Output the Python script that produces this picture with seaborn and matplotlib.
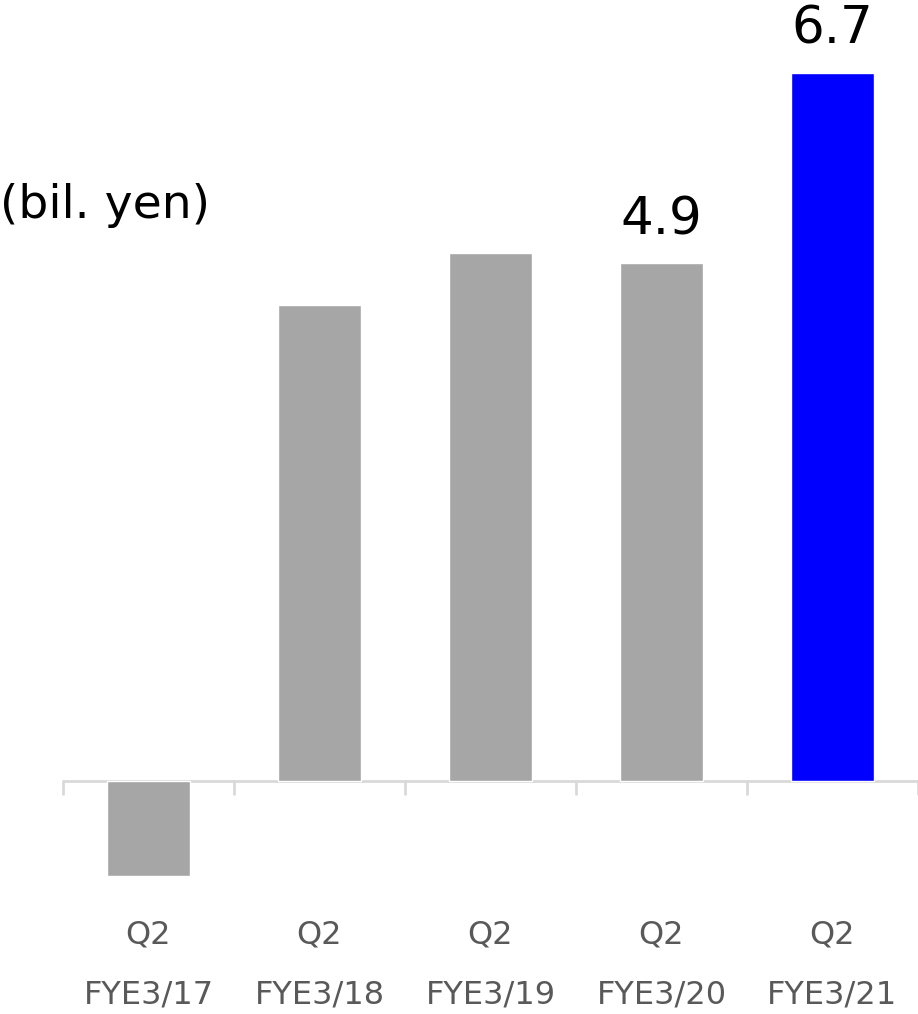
import matplotlib
matplotlib.use("Agg")
import matplotlib.pyplot as plt
import matplotlib.transforms as mtransforms
import seaborn as sns
import pandas as pd

categories = ["Q2\nFYE3/17", "Q2\nFYE3/18", "Q2\nFYE3/19", "Q2\nFYE3/20", "Q2\nFYE3/21"]
values = [-0.9, 4.5, 5.0, 4.9, 6.7]
colors = ["#A6A6A6", "#A6A6A6", "#A6A6A6", "#A6A6A6", "#0000FF"]
shown_labels = {3: "4.9", 4: "6.7"}
unit_label = "(bil. yen)"

sns.set_theme(style="white")
plt.rcParams["font.family"] = ["DejaVu Sans"]

W, H = 918, 1014
fig = plt.figure(figsize=(W / 100, H / 100), dpi=100)
ax = fig.add_axes([63 / W, (H - 900) / H, (W - 63) / W, 900 / H])

df = pd.DataFrame({"cat": categories, "val": values})
sns.barplot(data=df, x="cat", y="val", hue="cat", palette=colors, width=0.49,
            legend=False, ax=ax, saturation=1)

ax.set_xlim(-0.5, 4.5)
ax.set_ylim(-1.126, 7.389)
for s in ["top", "right", "left", "bottom"]:
    ax.spines[s].set_visible(False)
ax.axhline(0, color="#D9D9D9", lw=2, zorder=0.5)
ax.set_yticks([])
ax.set_xlabel("")
ax.set_ylabel("")
ax.set_xticklabels([])
ax.tick_params(axis="x", length=0)

# boundary tick marks
for b in [-0.5, 0.5, 1.5, 2.5, 3.5, 4.5]:
    ax.plot([b, b], [0, -0.12], color="#D9D9D9", lw=2, clip_on=False, zorder=0.5)

# category labels (two lines)
trans = mtransforms.blended_transform_factory(ax.transData, fig.transFigure)
for i, cat in enumerate(categories):
    l1, l2 = cat.split("\n")
    ax.text(i, (H - 935) / H, l1, transform=trans, ha="center", va="center",
            fontsize=23, color="#595959", clip_on=False)
    ax.text(i, (H - 995) / H, l2, transform=trans, ha="center", va="center",
            fontsize=23, color="#595959", clip_on=False)

for i, txt in shown_labels.items():
    ax.annotate(txt, (i, values[i]), xytext=(0, 13), textcoords="offset points",
                ha="center", va="bottom", fontsize=37, color="black")

fig.text(0, (H - 205) / H, unit_label, ha="left", va="center", fontsize=34, color="black")

fig.savefig("out.png", dpi=100)
